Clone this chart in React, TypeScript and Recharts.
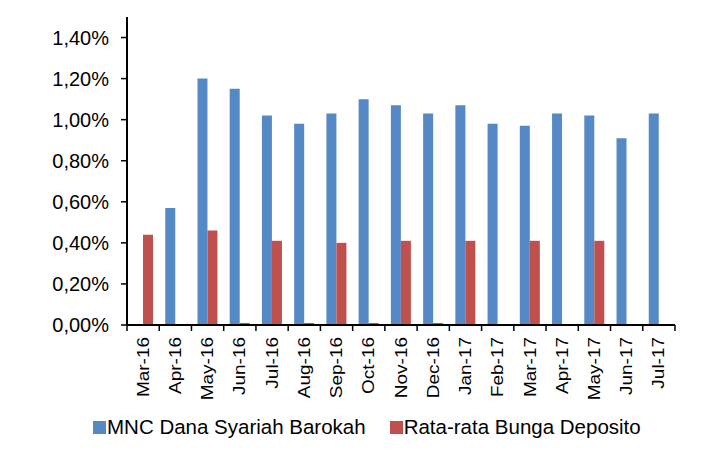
import React from "react";
import { BarChart, Bar, XAxis, YAxis, Legend } from "recharts";

const months = [
  "Mar-16", "Apr-16", "May-16", "Jun-16", "Jul-16", "Aug-16", "Sep-16", "Oct-16", "Nov-16",
  "Dec-16", "Jan-17", "Feb-17", "Mar-17", "Apr-17", "May-17", "Jun-17", "Jul-17",
];
const barokah = [0, 0.57, 1.2, 1.15, 1.02, 0.98, 1.03, 1.1, 1.07, 1.03, 1.07, 0.98, 0.97, 1.03, 1.02, 0.91, 1.03];
const deposito = [0.44, 0.003, 0.46, 0.01, 0.41, 0.01, 0.4, 0.01, 0.41, 0.01, 0.41, 0.003, 0.41, 0.003, 0.41, 0.003, 0];
const yTicks = [0, 0.2, 0.4, 0.6, 0.8, 1.0, 1.2, 1.4];

const BLUE = "#5589C6";
const RED = "#C0504D";
const FONT = "'Liberation Sans', Arial, sans-serif";

const data = months.map((m, i) => ({ month: m, barokah: barokah[i], deposito: deposito[i] }));

const W = 720;
const H = 450;
const LEFT = 127;
const RIGHT = 45;
const band = (W - LEFT - RIGHT) / months.length;

const fmt = (v: number) => v.toFixed(2).replace(".", ",") + "%";

// tick marks sit between months, label in the middle
function MonthTick(props: any) {
  const { x, y, payload, index } = props;
  const last = index === months.length - 1;
  return (
    <g>
      <line x1={x - band / 2} x2={x - band / 2} y1={y} y2={y + 6} stroke="#000" strokeWidth={1.5} />
      {last && <line x1={x + band / 2} x2={x + band / 2} y1={y} y2={y + 6} stroke="#000" strokeWidth={1.5} />}
      <text
        x={0}
        y={0}
        transform={`translate(${x},${y + 12}) rotate(-90) scale(1.15,1)`}
        textAnchor="end"
        dominantBaseline="central"
        fontSize={16.5}
        fontFamily={FONT}
        fill="#000"
      >
        {payload.value}
      </text>
    </g>
  );
}

function LegendContent() {
  const items = [
    { name: "MNC Dana Syariah Barokah", color: BLUE },
    { name: "Rata-rata Bunga Deposito", color: RED },
  ];
  return (
    <div style={{ display: "flex", alignItems: "center", paddingLeft: 93, fontFamily: FONT, fontSize: 20.5, color: "#000" }}>
      {items.map((it, i) => (
        <div key={it.name} style={{ display: "flex", alignItems: "center", marginRight: i === 0 ? 24 : 0 }}>
          <span style={{ width: 13, height: 13, background: it.color, display: "inline-block", marginRight: 1 }} />
          <span>{it.name}</span>
        </div>
      ))}
    </div>
  );
}

export default function App() {
  return (
    <div style={{ position: "absolute", left: 0, top: 0, width: W, height: H, background: "#fff" }}>
      <BarChart
        width={W}
        height={H}
        data={data}
        margin={{ top: 17, right: RIGHT, left: 0, bottom: 0 }}
        barSize={10}
        barGap={0}
      >
        <XAxis
          dataKey="month"
          interval={0}
          height={90}
          tickSize={0}
          tickMargin={0}
          tickLine={false}
          axisLine={{ stroke: "#000", strokeWidth: 2 }}
          tick={<MonthTick />}
        />
        <YAxis
          width={LEFT}
          domain={[0, 1.5]}
          ticks={yTicks}
          tickFormatter={fmt}
          tickSize={6}
          tickMargin={12}
          tickLine={{ stroke: "#000", strokeWidth: 1.5 }}
          axisLine={{ stroke: "#000", strokeWidth: 2 }}
          tick={{ fontSize: 20, fontFamily: FONT, fill: "#000" }}
        />
        <Legend verticalAlign="bottom" height={35} content={<LegendContent />} />
        <Bar dataKey="barokah" name="MNC Dana Syariah Barokah" fill={BLUE} isAnimationActive={false} />
        <Bar dataKey="deposito" name="Rata-rata Bunga Deposito" fill={RED} isAnimationActive={false} />
      </BarChart>
    </div>
  );
}
